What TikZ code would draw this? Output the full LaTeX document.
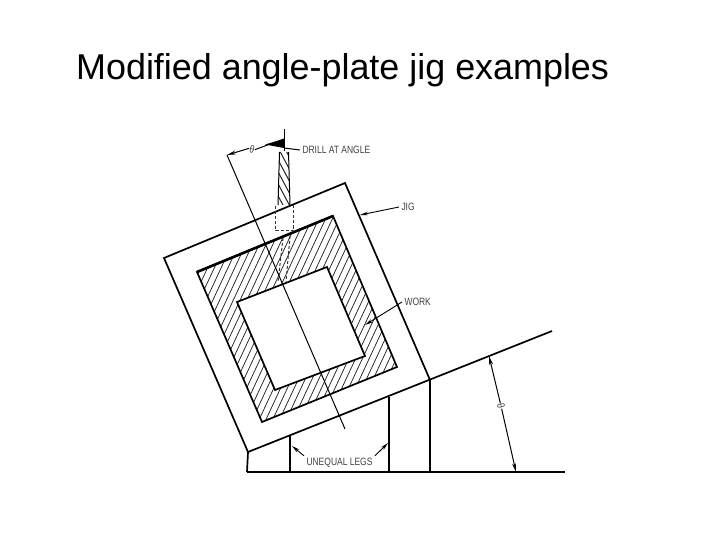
\documentclass[tikz,border=0pt]{standalone}
\usepackage{fontspec}
\setmainfont{Liberation Sans}
\newfontfamily\labfont[FakeStretch=0.8]{Liberation Sans}
\usetikzlibrary{arrows.meta}
\tikzset{
    lbl/.style={inner sep=0pt, outer sep=2.5pt, text=black!75, font=\labfont\fontsize{10.6}{11}\selectfont},
    thlbl/.style={lbl, outer sep=0.5pt},
    outl/.style={draw=black, line width=1.7pt, line join=miter},
    thin ln/.style={draw=black, line width=1pt},
    hatch/.style={draw=black!85, line width=0.75pt},
    lead/.style={-{Stealth[length=8pt,width=3.6pt]}, draw=black, line width=0.9pt},
    dim/.style={-{Stealth[length=9pt,width=4pt]}, draw=black, line width=1pt},
    hid/.style={draw=black!80, line width=1pt, dash pattern=on 3pt off 2pt},
}
\begin{document}
\begin{tikzpicture}[x=1pt,y=-1pt]
        \useasboundingbox (0,0) rectangle (720,540);

        \node[anchor=west, inner sep=0pt, font=\fontsize{35.9}{40}\selectfont] (title) at (76,70) {Modified angle-plate jig examples};

        % jig corners
        \coordinate (j_tl) at (164,258);
        \coordinate (j_tr) at (345,183);
        \coordinate (j_br) at (430,380);
        \coordinate (j_bl) at (248,452);
        \coordinate (j_end) at (552,331);

        % work corners
        \coordinate (w_tl) at (197,272);
        \coordinate (w_tr) at (333,216);
        \coordinate (w_br) at (397,367);
        \coordinate (w_bl) at (262,422);

        % opening corners
        \coordinate (o_tl) at (237,302);
        \coordinate (o_tr) at (327,267);
        \coordinate (o_br) at (365,356);
        \coordinate (o_bl) at (275,390);

        % hatching of the work
        \begin{scope}[even odd rule]
            \clip (w_tl) -- (w_tr) -- (w_br) -- (w_bl) -- cycle (o_tl) -- (o_tr) -- (o_br) -- (o_bl) -- cycle;
            \foreach \hx in {100,106.8,...,420}
                \draw[hatch] (\hx,440) -- (\hx+112,200);
        \end{scope}

        \draw[outl] (w_tl) -- (w_tr) -- (w_br) -- (w_bl) -- cycle;
        \draw[outl] (o_tl) -- (o_tr) -- (o_br) -- (o_bl) -- cycle;
        \draw[draw=black, line width=2.6pt] (w_tl) -- (w_tr);

        % jig and sloped line
        \draw[outl] (j_bl) -- (j_tl) -- (j_tr) -- (j_br);
        \draw[outl] (j_bl) -- (j_end);

        % legs
        \coordinate (b_l) at (247,472);
        \coordinate (b_r) at (565,472);
        \coordinate (l1_t) at (290,436);
        \coordinate (l1_b) at (290,472);
        \coordinate (l2_t) at (389,397);
        \coordinate (l2_b) at (389,472);
        \coordinate (l3_b) at (430,472);

        \draw[outl] (b_l) -- (b_r);
        \draw[outl] (j_bl) -- (b_l);
        \draw[outl] (l1_t) -- (l1_b);
        \draw[outl] (l2_t) -- (l2_b);
        \draw[outl] (j_br) -- (l3_b);

        % drill
        \coordinate (d_top) at (284,129);
        \coordinate (d_tip) at (284,151);
        \begin{scope}
            \clip (279.5,152) -- (288.5,152) -- (290,205) -- (278,205) -- cycle;
            \foreach \hy in {120,132,...,205}
                \draw[hatch, line width=1pt] (276,\hy) -- (292,\hy+30);
        \end{scope}
        \draw[thin ln] (279.5,152) -- (278,205);
        \draw[thin ln] (288.5,152) -- (290,205);
        \draw[thin ln] (d_top) -- (d_tip);

        % hidden part of the drill
        \draw[hid] (275.5,206) -- (275.5,231) -- (293,231) -- (293,205);
        \draw[hid] (283,238) -- (278,282);
        \draw[hid] (290,236) -- (286,282);

        % axis and angle at the drill
        \coordinate (a_top) at (227,155);
        \coordinate (a_end) at (345,429);
        \draw[thin ln] (a_top) -- (a_end);
        \node[thlbl, rotate=-14] (th_top) at (252,149) {θ};
        \coordinate (d_ar) at (284,139);
        \coordinate (wd_tip) at (265,144.5);
        \coordinate (wd_low) at (284,148);
        \draw[dim] (th_top.west) -- (a_top);
        \draw[thin ln] (th_top.east) -- (d_ar);
        \fill[black] (wd_tip) -- (d_ar) -- (wd_low) -- cycle;

        % labels
        \node[lbl, anchor=west] (drill) at (300,150) {DRILL AT ANGLE};
        \node[lbl, anchor=west] (jig) at (399,207) {JIG};
        \node[lbl, anchor=west] (work) at (402,302) {WORK};
        \node[lbl, anchor=west] (legs) at (304,463) {UNEQUAL LEGS};
        \node[thlbl, rotate=-77] (th_rt) at (501,406) {θ};

        \coordinate (j_to) at (360,215);
        \coordinate (w_to) at (365,325);
        \coordinate (l1_to) at (292,446);
        \coordinate (l2_to) at (388,443);
        \draw[thin ln] (drill.west) -- (wd_low);
        \draw[lead] (jig.west) -- (j_to);
        \draw[lead] (work.west) -- (w_to);
        \draw[lead] (legs.north west) -- (l1_to);
        \draw[lead] (legs.north east) -- (l2_to);

        \coordinate (r_top) at (489,356);
        \coordinate (r_bot) at (516,472);
        \draw[dim] (th_rt) -- (r_top);
        \draw[dim] (th_rt) -- (r_bot);
      \end{tikzpicture}
\end{document}
